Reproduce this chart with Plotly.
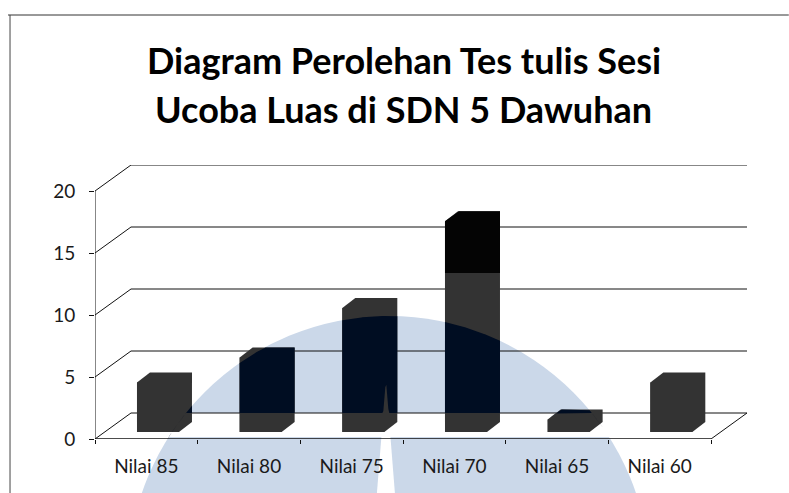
"""Diagram Perolehan Tes tulis: scanned pseudo-3D bar chart with a watermark behind it."""

import plotly.graph_objects as go

categories = ["Nilai 85", "Nilai 80", "Nilai 75", "Nilai 70", "Nilai 65", "Nilai 60"]
values = [4, 6, 10, 17, 1, 4]
y_ticks = [0, 5, 10, 15, 20]
title_lines = ["Diagram Perolehan Tes tulis Sesi", "Ucoba Luas di SDN 5 Dawuhan"]

WIDTH, HEIGHT = 789, 493

# Pixel frame of the chart
LEFT, BOTTOM = 95, 439
CAT_W = 102.7
UNIT_H = 12.4
WALL_DX, WALL_DY = 36, 26
RIGHT = LEFT + CAT_W * len(categories) + WALL_DX
TOP = BOTTOM - WALL_DY - 20 * UNIT_H

BAR_LEFT = 137 - LEFT - CAT_W / 2  # left edge of the front face, from the category centre
BAR_W = 42
BAR_DX, BAR_DY = 13, 10
BAR_LIFT = 7

# Watermark: arch, white floor band and white wedge
ARCH_X, ARCH_Y, ARCH_R = 389, 577, 261
BAND_TOP, BAND_BOTTOM = 413, 437
WEDGE_X, WEDGE_TOP, WEDGE_SLOPE = 386, 380, 12

GRAY = "#333333"
NAVY = "#000D22"
BLACK = "#040404"
BLUE = "#CBD8E9"
LINE = "#111111"


def to_x(px):
    return (px - LEFT) / CAT_W - 0.5


def to_y(py):
    return (BOTTOM - py) / UNIT_H


def paper_x(px):
    return (px - LEFT) / (RIGHT - LEFT)


def paper_y(py):
    return (BOTTOM - py) / (BOTTOM - TOP)


def arc_y(px):
    d = ARCH_R ** 2 - (px - ARCH_X) ** 2
    return ARCH_Y - d ** 0.5 if d > 0 else 9999


def bar_outline(k, value):
    """Pixel corners of one bar's silhouette."""
    xl = LEFT + CAT_W * (k + 0.5) + BAR_LEFT
    yb = BOTTOM - BAR_LIFT
    yt = yb - value * UNIT_H
    return xl, xl + BAR_W, yt, yb


def overlay(k, value, limit_top, limit_bottom):
    """Part of a bar's silhouette between two pixel limits, as axis values."""
    xl, xr, yt, yb = bar_outline(k, value)
    xs, tops, bottoms = [], [], []
    px = xl
    while px <= xr + BAR_DX:
        top = yt - min(px - xl, BAR_DX) * BAR_DY / BAR_DX
        bottom = yb - max(px - xr, 0) * BAR_DY / BAR_DX
        t = max(top, limit_top(px))
        b = max(t, min(bottom, limit_bottom(px)))
        xs.append(to_x(px))
        tops.append(to_y(t))
        bottoms.append(to_y(b))
        px += 1
    return xs + xs[::-1], tops + bottoms[::-1]


def add_fill(fig, xs, ys, color):
    fig.add_trace(go.Scatter(x=xs, y=ys, mode="lines", fill="toself", fillcolor=color,
                             line=dict(width=0), hoverinfo="skip", showlegend=False))


def add_line(fig, xs, ys, width=1):
    fig.add_trace(go.Scatter(x=xs, y=ys, mode="lines", line=dict(color=LINE, width=width),
                             hoverinfo="skip", showlegend=False))


fig = go.Figure()

# Walls
x_end = to_x(RIGHT)
x_wall = to_x(LEFT + WALL_DX)
wall_up = WALL_DY / UNIT_H
for tick in y_ticks:
    add_line(fig, [-0.5, x_wall, x_end], [tick, tick + wall_up, tick + wall_up])
add_line(fig, [-0.5, -0.5], [0, 20])
add_line(fig, [len(categories) - 0.5, x_end], [0, wall_up])
add_line(fig, [-0.5, len(categories) - 0.5], [0, 0], width=1.6)

# Front faces
fig.add_trace(go.Bar(
    x=[k + (BAR_LEFT + BAR_W / 2) / CAT_W for k in range(len(categories))],
    y=values,
    base=BAR_LIFT / UNIT_H,
    width=BAR_W / CAT_W,
    marker=dict(color=GRAY, line=dict(width=0)),
    hoverinfo="skip",
    showlegend=False,
))

# Top and side faces, as one silhouette
for k, value in enumerate(values):
    xl, xr, yt, yb = bar_outline(k, value)
    add_fill(fig,
             [to_x(p) for p in (xl, xl + BAR_DX, xr + BAR_DX, xr + BAR_DX, xr, xl)],
             [to_y(p) for p in (yt, yt - BAR_DY, yt - BAR_DY, yb - BAR_DY, yb, yb)],
             GRAY)


# Scan darkens the bars where they meet the watermark
def wedge_y(px):
    return min(BAND_TOP, WEDGE_TOP + abs(px - WEDGE_X) * WEDGE_SLOPE)


for k, value in enumerate(values):
    xs, ys = overlay(k, value, arc_y, wedge_y)
    add_fill(fig, xs, ys, NAVY)

# Upper part of the tallest bar came out black
xs, ys = overlay(3, values[3], lambda px: 0, lambda px: 273)
add_fill(fig, xs, ys, BLACK)

shapes = [
    dict(type="circle", xref="paper", yref="paper", layer="below",
         x0=paper_x(ARCH_X - ARCH_R), x1=paper_x(ARCH_X + ARCH_R),
         y0=paper_y(ARCH_Y + ARCH_R), y1=paper_y(ARCH_Y - ARCH_R),
         fillcolor=BLUE, line=dict(width=0)),
    dict(type="rect", xref="paper", yref="paper", layer="below",
         x0=paper_x(0), x1=paper_x(WIDTH), y0=paper_y(BAND_BOTTOM), y1=paper_y(BAND_TOP),
         fillcolor="white", line=dict(width=0)),
    dict(type="path", xref="paper", yref="paper", layer="below",
         path=(f"M {paper_x(WEDGE_X)} {paper_y(WEDGE_TOP)} "
               f"L {paper_x(WEDGE_X + 9)} {paper_y(HEIGHT)} "
               f"L {paper_x(WEDGE_X - 9)} {paper_y(HEIGHT)} Z"),
         fillcolor="white", line=dict(width=0)),
    # Scanned page frame
    dict(type="line", xref="paper", yref="paper",
         x0=paper_x(8), x1=paper_x(WIDTH), y0=paper_y(15), y1=paper_y(15),
         line=dict(color="#333333", width=1)),
    dict(type="line", xref="paper", yref="paper",
         x0=paper_x(10), x1=paper_x(10), y0=paper_y(15), y1=paper_y(HEIGHT),
         line=dict(color="#444444", width=1)),
]

annotations = [
    dict(text=line, xref="paper", yref="paper", x=paper_x(404), y=paper_y(py),
         xanchor="center", yanchor="middle", showarrow=False,
         font=dict(family="Lato", size=36, color="#000000", weight="bold"))
    for line, py in zip(title_lines, (60, 109))
]

fig.update_layout(
    width=WIDTH,
    height=HEIGHT,
    margin=dict(l=LEFT, r=WIDTH - RIGHT, t=TOP, b=HEIGHT - BOTTOM, pad=0),
    paper_bgcolor="white",
    plot_bgcolor="rgba(0,0,0,0)",
    showlegend=False,
    barmode="overlay",
    shapes=shapes,
    annotations=annotations,
    font=dict(family="Lato", color="#1a1a1a"),
    xaxis=dict(
        range=[-0.5, x_end],
        tickmode="array",
        tickvals=list(range(len(categories))),
        ticktext=categories,
        ticks="",
        tickfont=dict(size=19),
        ticklabelstandoff=14,
        showgrid=False,
        zeroline=False,
        showline=False,
        minor=dict(tickmode="array", tickvals=[k - 0.5 for k in range(len(categories) + 1)],
                   ticks="outside", ticklen=4, tickcolor=LINE, showgrid=False),
    ),
    yaxis=dict(
        range=[0, to_y(TOP)],
        tickmode="array",
        tickvals=y_ticks,
        ticks="outside",
        ticklen=5,
        tickcolor=LINE,
        tickfont=dict(size=19),
        ticklabelstandoff=10,
        showgrid=False,
        zeroline=False,
        showline=False,
    ),
)

# The page's default body margin would push the chart 8px off
fig.write_html("out.html", config=dict(displayModeBar=False),
               post_script="document.body.style.margin = '0';")
